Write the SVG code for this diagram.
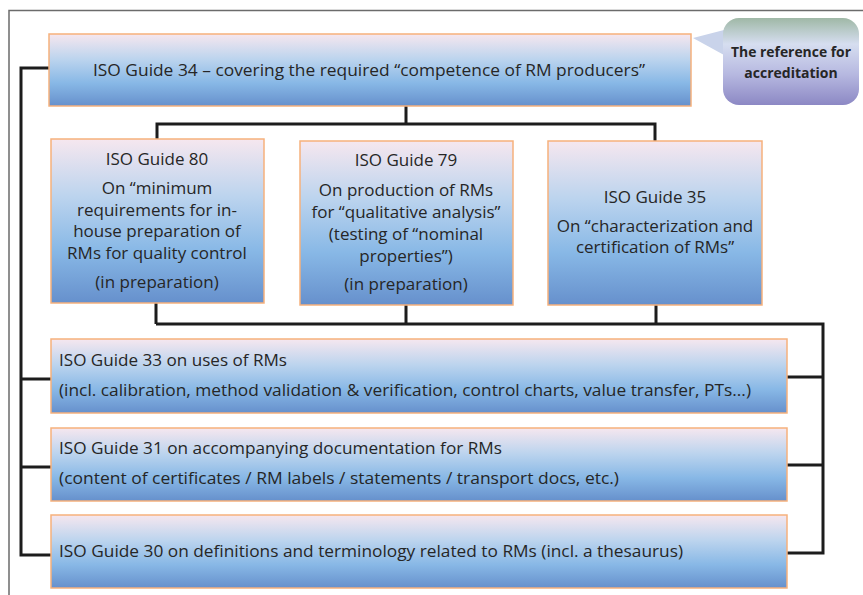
<svg xmlns="http://www.w3.org/2000/svg" width="863" height="595" viewBox="0 0 863 595">
<defs>
<linearGradient id="boxg" x1="0" y1="0" x2="0" y2="1">
<stop offset="0" stop-color="#f6e7ef"/>
<stop offset="0.35" stop-color="#bcd4ee"/>
<stop offset="0.68" stop-color="#88b8e6"/>
<stop offset="1" stop-color="#6690cc"/>
</linearGradient>
<linearGradient id="callg" x1="0" y1="0" x2="0" y2="1">
<stop offset="0" stop-color="#9fb8a6"/>
<stop offset="0.3" stop-color="#d6def0"/>
<stop offset="0.65" stop-color="#b6b8e0"/>
<stop offset="1" stop-color="#8c88c4"/>
</linearGradient>
<style>
.box{fill:url(#boxg);stroke:#f6b17c;stroke-width:1.5}
.t{font-family:"Open Sans","Noto Sans",sans-serif;font-size:17px;fill:#262626}
.c{text-anchor:middle}
.conn{fill:none;stroke:#1c1c1c;stroke-width:3;stroke-linejoin:miter}
.frame{fill:none;stroke:#6b6b6b;stroke-width:1.5}
.callt{font-family:"Open Sans","Noto Sans",sans-serif;font-size:14px;font-weight:bold;fill:#262626;text-anchor:middle}
</style>
</defs>
<rect width="863" height="595" fill="#ffffff"/>
<path class="frame" d="M9,595 V10.5 H863"/>

<g id="connectors">
<path class="conn" d="M49,68 H21 V555 H52"/>
<path class="conn" d="M21,379 H51 M21,467 H51"/>
<path class="conn" d="M406,106 V124 M157,140 V124 H655 V141"/>
<path class="conn" d="M156,303 V324 M406,305 V324 M656,305 V324 M156,324 H823 V553 H787 M787,377 H823 M787,465 H823"/>
</g>

<g id="callout">
<path d="M693,38 L724,30 L724,55 Z" fill="#c9d3ea"/>
<rect x="723" y="18" width="136" height="87" rx="16" ry="16" fill="url(#callg)"/>
<text class="callt" x="791" y="57" textLength="120" lengthAdjust="spacingAndGlyphs">The reference for</text>
<text class="callt" x="791" y="78">accreditation</text>
</g>

<g id="guide34">
<rect class="box" x="49" y="34" width="642" height="72"/>
<text class="t" x="93" y="76" textLength="552" lengthAdjust="spacingAndGlyphs">ISO Guide 34 – covering the required “competence of RM producers”</text>
</g>

<g id="guide80">
<rect class="box" x="51" y="139" width="213" height="164"/>
<text class="t c" x="157" y="165">ISO Guide 80</text>
<text class="t c" x="157" y="194">On “minimum</text>
<text class="t c" x="157" y="216">requirements for in-</text>
<text class="t c" x="157" y="237">house preparation of</text>
<text class="t c" x="157" y="259">RMs for quality control</text>
<text class="t c" x="157" y="288">(in preparation)</text>
</g>

<g id="guide79">
<rect class="box" x="300" y="141" width="213" height="164"/>
<text class="t c" x="406" y="166">ISO Guide 79</text>
<text class="t c" x="406" y="196">On production of RMs</text>
<text class="t c" x="406" y="218">for “qualitative analysis”</text>
<text class="t c" x="406" y="240">(testing of “nominal</text>
<text class="t c" x="406" y="262">properties”)</text>
<text class="t c" x="406" y="290">(in preparation)</text>
</g>

<g id="guide35">
<rect class="box" x="548" y="141" width="214" height="164"/>
<text class="t c" x="655" y="203">ISO Guide 35</text>
<text class="t c" x="655" y="232">On “characterization and</text>
<text class="t c" x="655" y="253">certification of RMs”</text>
</g>

<g id="guide33">
<rect class="box" x="51" y="339" width="736" height="74"/>
<text class="t" x="59" y="366" textLength="228" lengthAdjust="spacingAndGlyphs">ISO Guide 33 on uses of RMs</text>
<text class="t" x="59" y="396" textLength="692" lengthAdjust="spacingAndGlyphs">(incl. calibration, method validation &amp; verification, control charts, value transfer, PTs...)</text>
</g>

<g id="guide31">
<rect class="box" x="51" y="428" width="736" height="73"/>
<text class="t" x="59" y="454" textLength="443" lengthAdjust="spacingAndGlyphs">ISO Guide 31 on accompanying documentation for RMs</text>
<text class="t" x="59" y="484" textLength="560" lengthAdjust="spacingAndGlyphs">(content of certificates / RM labels / statements / transport docs, etc.)</text>
</g>

<g id="guide30">
<rect class="box" x="51" y="515" width="736" height="73"/>
<text class="t" x="59" y="557" textLength="624" lengthAdjust="spacingAndGlyphs">ISO Guide 30 on definitions and terminology related to RMs (incl. a thesaurus)</text>
</g>
</svg>
